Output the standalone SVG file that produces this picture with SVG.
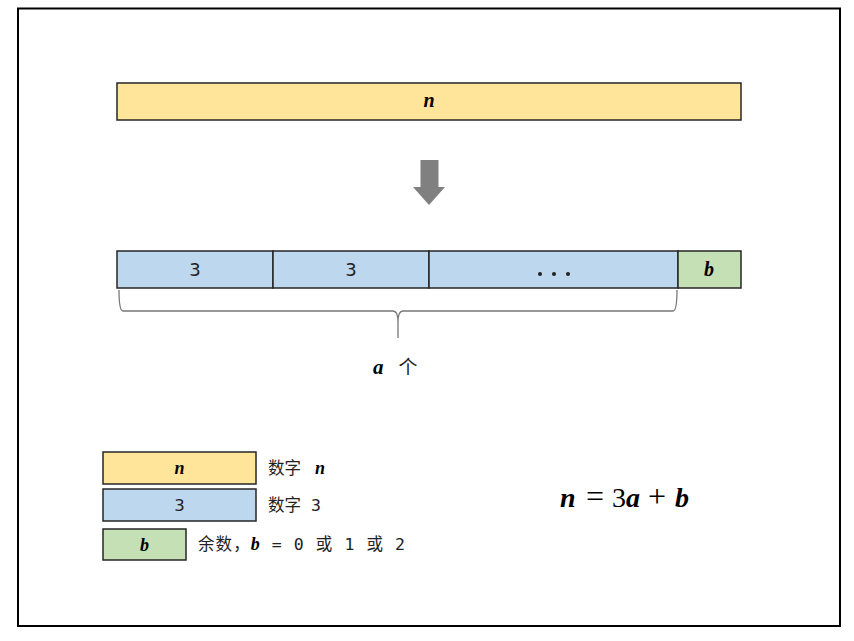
<svg xmlns="http://www.w3.org/2000/svg" width="854" height="641" viewBox="0 0 854 641">
<style>
.y{fill:#FFE599;stroke:#262626;stroke-width:1.5}
.bl{fill:#BDD7EE;stroke:#262626;stroke-width:1.5}
.g{fill:#C5E0B4;stroke:#262626;stroke-width:1.5}
.v{font-family:"Liberation Serif",serif;font-weight:bold;font-style:italic;fill:#000}
.t{font-family:"DejaVu Sans Mono","Noto Sans CJK SC",monospace;fill:#222}
.c{font-family:"DejaVu Sans","Noto Sans CJK SC",sans-serif;fill:#222}
.m{font-family:"Liberation Serif",serif;fill:#000}
</style>
<rect x="0" y="0" width="854" height="641" fill="#fff"/>
<rect x="18" y="8.5" width="822" height="617.5" fill="#fff" stroke="#000" stroke-width="2"/>
<g id="top-bar">
<rect class="y" x="117" y="83" width="624" height="37"/>
<text class="v" x="429" y="107" font-size="20" text-anchor="middle">n</text>
</g>
<g id="arrow">
<path d="M420.5 160 H438.5 V187 H445 L429 205 L413 187 H420.5 Z" fill="#808080"/>
</g>
<g id="row">
<rect class="bl" x="117" y="251" width="156" height="37"/>
<text class="c" x="195" y="276" font-size="18" text-anchor="middle">3</text>
<rect class="bl" x="273" y="251" width="156" height="37"/>
<text class="c" x="351" y="276" font-size="18" text-anchor="middle">3</text>
<rect class="bl" x="429" y="251" width="249" height="37"/>
<g fill="#222"><circle cx="540" cy="274" r="2"/><circle cx="554" cy="274" r="2"/><circle cx="568" cy="274" r="2"/></g>
<rect class="g" x="678" y="251" width="63" height="37"/>
<text class="v" x="709" y="276" font-size="20" text-anchor="middle">b</text>
</g>
<g id="connectors">
<path d="M119 290 Q119 311 123 311 H393 Q398 311 398 322 V338 M398 322 Q398 311 403 311 H673 Q677 311 677 290" fill="none" stroke="#777" stroke-width="1.3"/>
</g>
<g id="brace-label">
<text x="373" y="374" font-size="21"><tspan class="v">a</tspan><tspan class="c" dx="15" font-size="19">个</tspan></text>
</g>
<g id="legend-n">
<rect class="y" x="103" y="452" width="153" height="32"/>
<text class="v" x="179.5" y="474" font-size="18" text-anchor="middle">n</text>
<text x="268" y="474" font-size="16.5"><tspan class="t">数字 </tspan><tspan class="v" dx="4" font-size="18">n</tspan></text>
</g>
<g id="legend-3">
<rect class="bl" x="103" y="489" width="153" height="32"/>
<text class="c" x="179.5" y="511" font-size="16.5" text-anchor="middle">3</text>
<text class="t" x="268" y="511" font-size="16.5">数字 3</text>
</g>
<g id="legend-b">
<rect class="g" x="103" y="529" width="83" height="31"/>
<text class="v" x="144.5" y="551" font-size="18" text-anchor="middle">b</text>
<text x="198" y="550" font-size="16.5" textLength="207" lengthAdjust="spacing"><tspan class="t">余数，</tspan><tspan class="v" font-size="18">b</tspan><tspan class="t"> = 0 或 1 或 2</tspan></text>
</g>
<g id="formula" font-size="28">
<text class="v" x="560" y="507">n</text>
<text class="m" x="586" y="507" font-size="32">=</text>
<text class="m" x="612" y="507">3</text>
<text class="v" x="626" y="507">a</text>
<text class="m" x="648" y="507" font-size="32">+</text>
<text class="v" x="675" y="507">b</text>
</g>
</svg>
